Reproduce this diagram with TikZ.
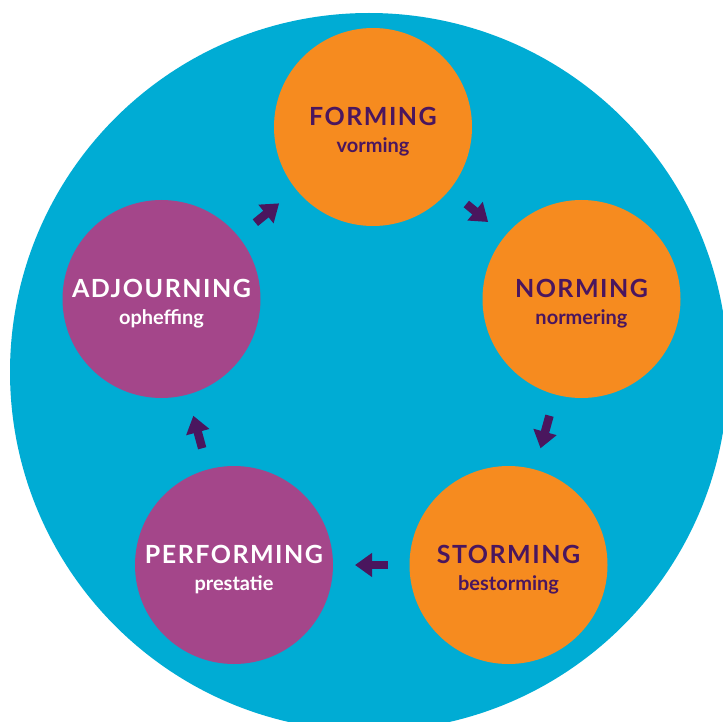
\documentclass[tikz,border=0pt]{standalone}
\usepackage{fontspec}
\setmainfont{Lato}
\newfontfamily\stagefont[LetterSpace=6]{Lato}
\usetikzlibrary{arrows.meta}

\definecolor{discblue}{RGB}{0,172,212}
\definecolor{stageorange}{RGB}{246,139,31}
\definecolor{stagepurple}{RGB}{164,70,138}
\definecolor{stagedark}{RGB}{74,22,94}

\newcommand{\stagetext}[2]{{\stagefont\bfseries\fontsize{25}{27}\selectfont\rule{0pt}{28pt}#1}\\[11pt]{\bfseries\fontsize{20}{22}\selectfont #2}}

\begin{document}
\begin{tikzpicture}[x=1pt, y=-1pt,
        stage/.style={circle, minimum size=198pt, inner sep=0pt, outer sep=0pt, align=center},
        earlystage/.style={stage, fill=stageorange, text=stagedark},
        latestage/.style={stage, fill=stagepurple, text=white},
        flowarrow/.style={draw=stagedark, line width=8.5pt, -{Triangle[width=23pt, length=17pt]},
                shorten <=22pt, shorten >=22pt}]
        \useasboundingbox (0, 0) rectangle (723, 722);
        \clip (0, 0) rectangle (723, 722);
        \fill[discblue] (369, 372) circle [radius=359pt];

        \node[earlystage] (forming) at (373, 127) {\stagetext{FORMING}{vorming}};
        \node[earlystage] (norming) at (581.5, 299) {\stagetext{NORMING}{normering}};
        \node[earlystage] (storming) at (508.5, 565) {\stagetext{STORMING}{bestorming}};
        \node[latestage] (performing) at (234, 565) {\stagetext{PERFORMING}{prestatie}};
        \node[latestage] (adjourning) at (161.5, 299) {\stagetext{ADJOURNING}{opheffing}};

        \foreach \a/\b in {adjourning/forming, forming/norming, norming/storming,
                storming/performing, performing/adjourning}
                \draw[flowarrow] (\a) -- (\b);
\end{tikzpicture}
\end{document}
